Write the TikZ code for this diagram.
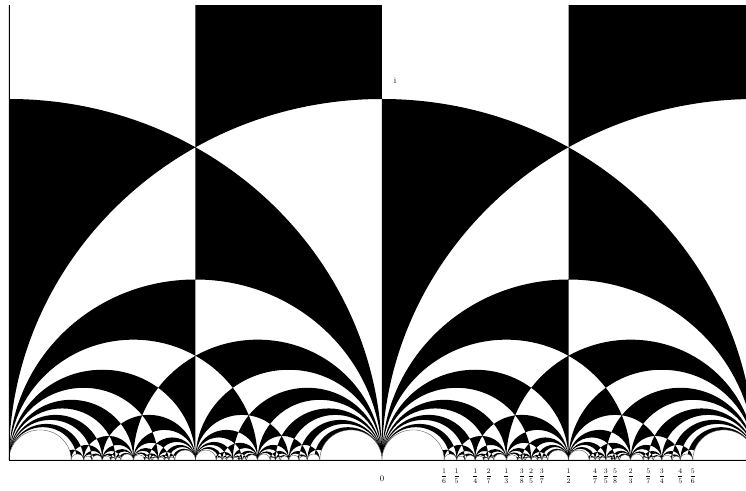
\documentclass[tikz,border=0pt]{standalone}
\usepackage{amsmath}

% depth of the Farey subdivision under each unit interval
\newcommand\fareydepth{5}

% half disc over the geodesic between two cusps, for the even-odd fill
\newcommand\addgeo[2]{%
  \pgfmathsetmacro\geoA{#1}%
  \pgfmathsetmacro\geoB{#2}%
  \pgfmathsetmacro\geoL{min(\geoA,\geoB)}%
  \pgfmathsetmacro\geoR{abs(\geoB-\geoA)/2}%
  \xdef\geopath{\geopath (\geoL,0) arc[start angle=180,end angle=0,x radius=\geoR,y radius=\geoR] -- cycle}%
}
% half disc that is left blank
\newcommand\addwhite[2]{%
  \pgfmathsetmacro\geoA{#1}%
  \pgfmathsetmacro\geoB{#2}%
  \pgfmathsetmacro\geoL{min(\geoA,\geoB)}%
  \pgfmathsetmacro\geoR{abs(\geoB-\geoA)/2}%
  \xdef\whitepath{\whitepath (\geoL,0) arc[start angle=180,end angle=0,x radius=\geoR,y radius=\geoR] -- cycle}%
}
% Farey triangle under the edge #1/#2 -- #3/#4, at level #5
\newcommand\fareytri[5]{%
  \begingroup
  \pgfmathtruncatemacro\mednum{#1+#3}%
  \pgfmathtruncatemacro\medden{#2+#4}%
  \addgeo{(#1)/(#2)}{(#3)/(#4)}%
  \ifnum#2=#4\relax\else
    \addgeo{\mednum/\medden}{((#3)-(#1))/((#4)-(#2))}%
  \fi
  \ifnum#5<\fareydepth\relax
    \pgfmathtruncatemacro\nextlev{#5+1}%
    \edef\fareynext{\noexpand\fareytri{#1}{#2}{\mednum}{\medden}{\nextlev}%
      \noexpand\fareytri{\mednum}{\medden}{#3}{#4}{\nextlev}}%
    \fareynext
  \else
    % medians of the children, the children stay blank
    \addgeo{((#1)+\mednum)/((#2)+\medden)}{(#3)/(#4)}%
    \addgeo{(\mednum+(#3))/(\medden+(#4))}{(#1)/(#2)}%
    \addwhite{(#1)/(#2)}{\mednum/\medden}%
    \addwhite{\mednum/\medden}{(#3)/(#4)}%
  \fi
  \endgroup}

\begin{document}
\begin{tikzpicture}[x=373bp, y=361bp,
  fraclabel/.style={font=\fontsize{7}{8}\selectfont, inner sep=0pt},
  pointlabel/.style={font=\fontsize{8.5}{9}\selectfont, inner sep=0pt},
  rim/.style={line width=0.8bp},
  bubble/.style={fill=white, draw=black!70, line width=0.35bp},
]
\useasboundingbox (-1.02413,-0.08587) rectangle (0.97587,1.27424);

% Geodesics: strips x<k/2, circles about -1, 0, 1, then the Farey tree
\gdef\geopath{(-1,0) rectangle (-0.5,1.3) (-1,0) rectangle (0,1.3) (-1,0) rectangle (0.5,1.3) (-1,0) rectangle (1,1.3)}
\gdef\whitepath{}
\addgeo{-2}{0}\addgeo{-1}{1}\addgeo{0}{2}
\fareytri{-1}{1}{0}{1}{1}
\fareytri{0}{1}{1}{1}{1}

% Tessellation
\begin{scope}
  \clip (-1,0) rectangle (0.97587,1.26);
  \edef\fillcmd{\noexpand\fill[black, even odd rule] \geopath;}\fillcmd
  \edef\fillcmd{\noexpand\path[bubble] \whitepath;}\fillcmd
\end{scope}

% Frame
\coordinate (top) at (-1,1.26);
\coordinate (foot) at (-1,0);
\coordinate (end) at (0.97587,0);
\draw[rim] (top) -- (foot) -- (end);

% Labels
\node[pointlabel] (ilabel) at (0.035,1.05) {i};
\node[pointlabel] (zero) at (0,-0.0526) {0};
\foreach \p/\q in {1/6,1/5,1/4,2/7,1/3,3/8,2/5,3/7,1/2,4/7,3/5,5/8,2/3,5/7,3/4,4/5,5/6}
  \node[fraclabel] (f\p\q) at ({\p/\q},-0.0443) {$\dfrac{\p}{\q}$};

\end{tikzpicture}
\end{document}
